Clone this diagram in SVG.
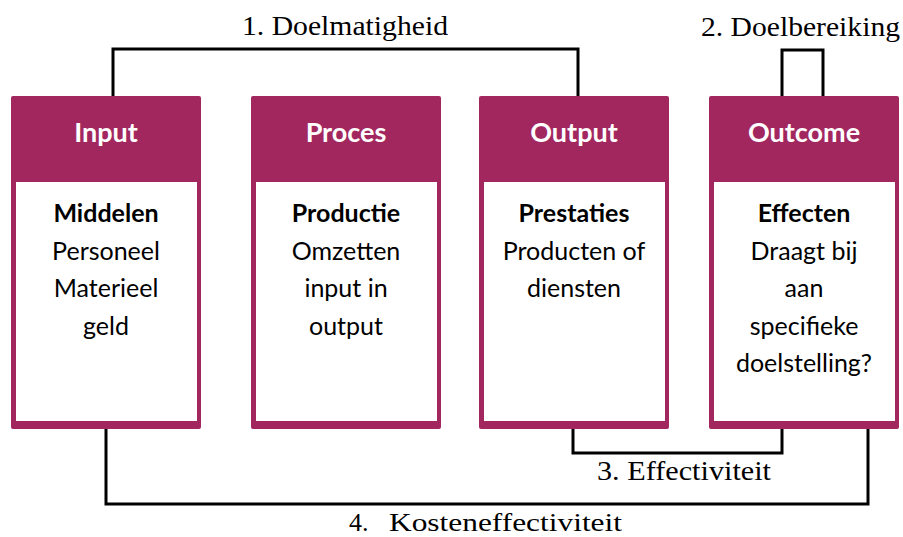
<svg xmlns="http://www.w3.org/2000/svg" width="903" height="537" viewBox="0 0 903 537">
<style>
.box{fill:#A2275F}
.inner{fill:#ffffff}
.hd{font-family:Lato,"Open Sans",sans-serif;font-weight:bold;font-size:27px;fill:#ffffff;text-anchor:middle}
.bt{font-family:Lato,"Open Sans",sans-serif;font-size:25px;fill:#000;text-anchor:middle}
.bb{font-weight:bold}
.conn{fill:none;stroke:#000;stroke-width:3;stroke-linejoin:miter}
.lbl{font-family:"Liberation Serif","DejaVu Serif",serif;font-size:28px;fill:#000}
.lbl4{font-size:26px}
</style>
<rect width="903" height="537" fill="#ffffff"/>
<g id="connectors">
<path class="conn" d="M113 96 V49 H578 V96"/>
<path class="conn" d="M782 96 V50 H823 V96"/>
<path class="conn" d="M573 429 V453 H782 V429"/>
<path class="conn" d="M106 429 V504 H868 V429"/>
<text class="lbl" x="242" y="35" textLength="206" lengthAdjust="spacingAndGlyphs">1. Doelmatigheid</text>
<text class="lbl" x="701" y="36" textLength="199" lengthAdjust="spacingAndGlyphs">2. Doelbereiking</text>
<text class="lbl" x="597" y="480" textLength="174" lengthAdjust="spacingAndGlyphs">3. Effectiviteit</text>
<text class="lbl lbl4" x="349" y="531">4.</text>
<text class="lbl lbl4" x="389" y="531" textLength="233" lengthAdjust="spacingAndGlyphs">Kosteneffectiviteit</text>
</g>
<g id="input">
<rect class="box" x="11" y="96" width="190" height="333" rx="2"/>
<rect class="inner" x="16" y="182" width="181" height="239"/>
<text class="hd" x="106" y="142">Input</text>
<text class="bt bb" x="106" y="222">Middelen</text>
<text class="bt" x="106" y="259.5">Personeel</text>
<text class="bt" x="106" y="297">Materieel</text>
<text class="bt" x="106" y="334.5">geld</text>
</g>
<g id="proces">
<rect class="box" x="251" y="96" width="190" height="333" rx="2"/>
<rect class="inner" x="256" y="182" width="181" height="239"/>
<text class="hd" x="346" y="142">Proces</text>
<text class="bt bb" x="346" y="222">Productie</text>
<text class="bt" x="346" y="259.5">Omzetten</text>
<text class="bt" x="346" y="297">input in</text>
<text class="bt" x="346" y="334.5">output</text>
</g>
<g id="output">
<rect class="box" x="479" y="96" width="190" height="333" rx="2"/>
<rect class="inner" x="484" y="182" width="181" height="239"/>
<text class="hd" x="574" y="142">Output</text>
<text class="bt bb" x="574" y="222">Prestaties</text>
<text class="bt" x="574" y="259.5">Producten of</text>
<text class="bt" x="574" y="297">diensten</text>
</g>
<g id="outcome">
<rect class="box" x="709" y="96" width="190" height="333" rx="2"/>
<rect class="inner" x="714" y="182" width="181" height="239"/>
<text class="hd" x="804" y="142">Outcome</text>
<text class="bt bb" x="804" y="222">Effecten</text>
<text class="bt" x="804" y="259.5">Draagt bij</text>
<text class="bt" x="804" y="297">aan</text>
<text class="bt" x="804" y="334.5">specifieke</text>
<text class="bt" x="804" y="372">doelstelling?</text>
</g>
</svg>
